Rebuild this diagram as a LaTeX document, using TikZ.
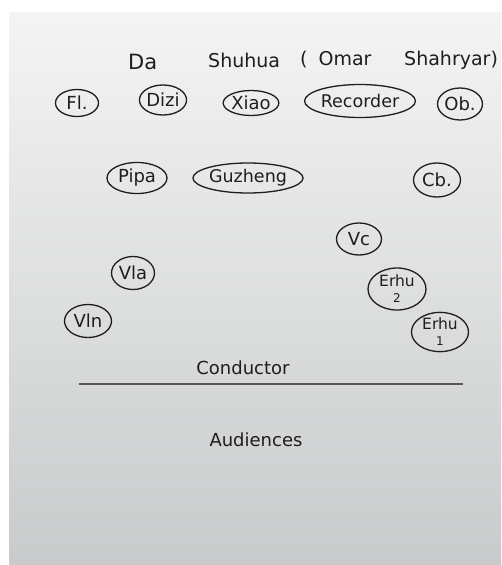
\documentclass[tikz,border=0pt]{standalone}
\usepackage{fontspec}
\setmainfont{DejaVu Sans}
\usetikzlibrary{shapes.geometric}
\definecolor{ink}{HTML}{1E1E1E}
\definecolor{papertop}{HTML}{F4F4F4}
\definecolor{paperbot}{HTML}{C8CACB}
\tikzset{
  inst/.style={ellipse, draw=ink, line width=1.3pt, text=ink, inner sep=0pt,
    font=\fontsize{18}{19}\selectfont, align=center},
  long/.style={inst, font=\fontsize{17.5}{18}\selectfont},
  erhu/.style={inst, font=\fontsize{15.5}{16}\selectfont},
  title/.style={text=ink, font=\fontsize{19}{21}\selectfont, inner sep=0pt, anchor=west},
  hand/.style={text=ink, font=\fontsize{18}{20}\selectfont, inner sep=0pt},
  stage/.style={draw=ink!75, line width=1.4pt}
}
\newcommand{\erhunum}[1]{{\fontsize{12}{12}\selectfont #1}}
\begin{document}
\begin{tikzpicture}[x=1pt,y=-1pt]
\useasboundingbox (0,0) rectangle (501,565);
\fill[white] (0,0) rectangle (501,565);
\shade[top color=papertop, bottom color=paperbot] (9,12) rectangle (501,565);
% title
\node[title] (t1) at (128,62) {\fontsize{21}{22}\selectfont Da};
\node[title] (t2) at (208,60) {Shuhua};
\node[title] (t3) at (300,60) {(\hspace{11pt}Omar};
\node[title] (t4) at (404,60) {Shahryar)};
% row 1
\node[inst, minimum width=43pt, minimum height=27pt] (fl) at (77,103) {Fl.};
\node[inst, minimum width=47pt, minimum height=30pt] (dizi) at (163,100) {Dizi};
\node[inst, minimum width=55pt, minimum height=25pt] (xiao) at (251,103) {Xiao};
\node[long, minimum width=94pt, minimum height=33pt] (rec) at (360,101) {Recorder};
\node[inst, minimum width=45pt, minimum height=32pt] (ob) at (460,104) {Ob.};
% row 2
\node[inst, minimum width=60pt, minimum height=31pt] (pipa) at (137,178) {Pipa};
\node[long, minimum width=93pt, minimum height=30pt] (guz) at (248,178) {Guzheng};
\node[inst, minimum width=47pt, minimum height=34pt] (cb) at (437,180) {Cb.};
% strings
\node[inst, minimum width=45pt, minimum height=32pt] (vc) at (359,239) {Vc};
\node[inst, minimum width=43pt, minimum height=33pt] (vla) at (133,273) {Vla};
\node[erhu, minimum width=58pt, minimum height=42pt] (erhu2) at (397,289) {Erhu\\\erhunum{2}};
\node[inst, minimum width=47pt, minimum height=33pt] (vln) at (88,321) {Vln};
\node[erhu, minimum width=57pt, minimum height=39pt] (erhu1) at (440,332) {Erhu\\\erhunum{1}};
% conductor and audience
\node[hand] (cond) at (243,368) {Conductor};
\coordinate (l1) at (79,384);
\coordinate (l2) at (463,384);
\draw[stage] (l1) -- (l2);
\node[hand] (aud) at (256,440) {Audiences};
\end{tikzpicture}
\end{document}
